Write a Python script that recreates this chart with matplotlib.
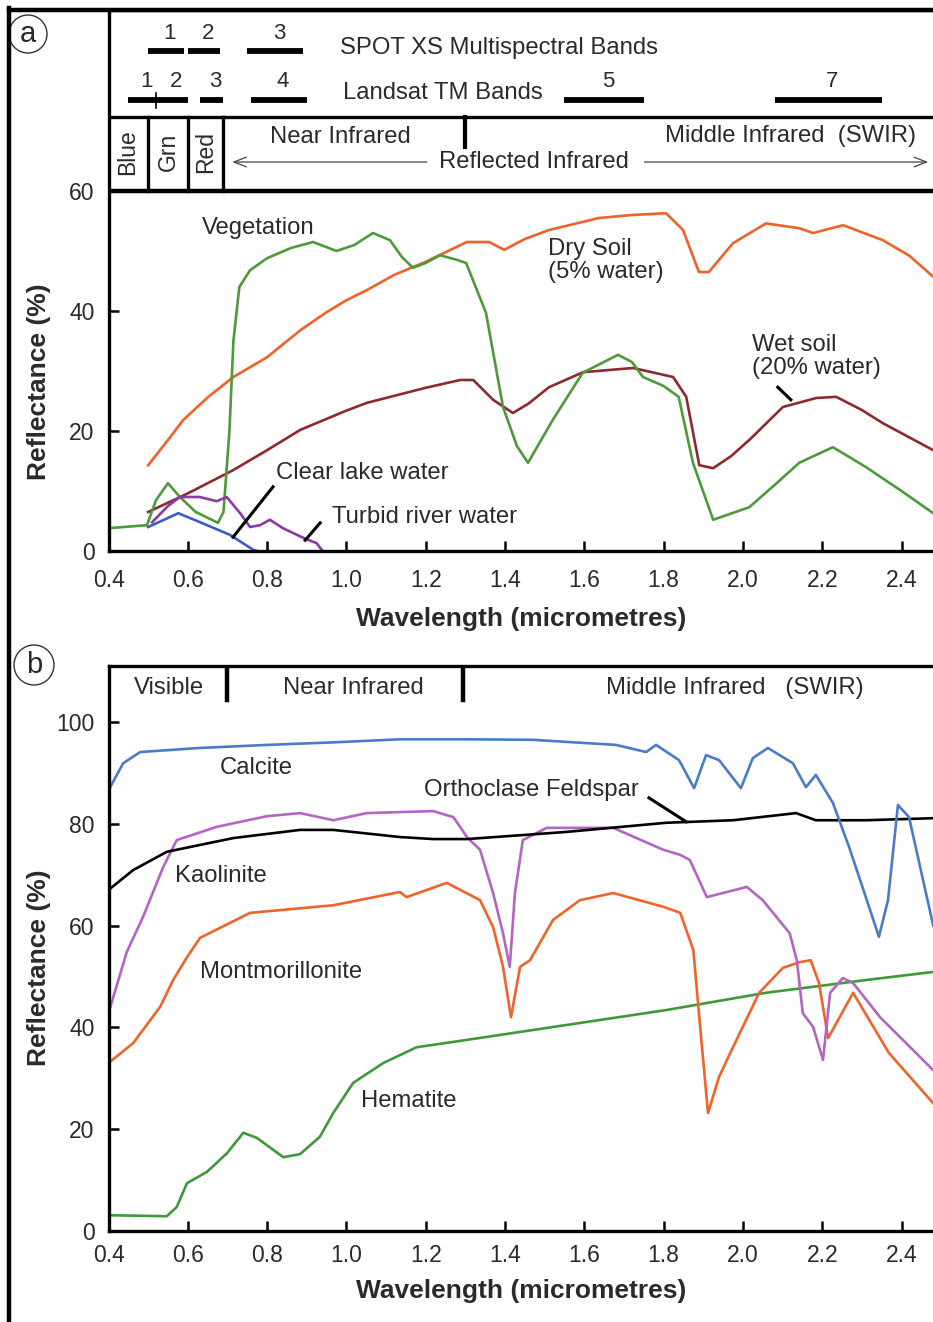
import matplotlib
matplotlib.use("Agg")
import matplotlib.pyplot as plt
from matplotlib.lines import Line2D
from matplotlib.patches import Ellipse

plt.rcParams['font.family'] = ['Liberation Sans', 'DejaVu Sans']

# ---------------- data: panel (a) ----------------
veg_x = [0.40, 0.497, 0.52, 0.55, 0.58, 0.62, 0.676, 0.69, 0.705, 0.715, 0.73, 0.757, 0.80, 0.86, 0.916, 0.975,
         1.02, 1.067, 1.11, 1.14, 1.168, 1.20, 1.236, 1.28, 1.302, 1.352, 1.395, 1.43, 1.458, 1.52, 1.596,
         1.685, 1.72, 1.748, 1.80, 1.838, 1.874, 1.925, 2.016, 2.08, 2.142, 2.227, 2.31, 2.40, 2.48]
veg_y = [3.8, 4.3, 8.5, 11.3, 9.0, 6.5, 4.7, 6.5, 20.0, 35.0, 44.0, 46.8, 48.8, 50.5, 51.5, 50.0,
         51.0, 53.0, 51.8, 49.0, 47.2, 48.0, 49.3, 48.5, 48.0, 39.7, 24.0, 17.5, 14.7, 21.8, 29.7,
         32.7, 31.5, 29.0, 27.5, 25.7, 14.7, 5.2, 7.3, 11.0, 14.7, 17.3, 14.0, 10.0, 6.3]

dry_x = [0.50, 0.55, 0.588, 0.65, 0.715, 0.80, 0.884, 0.95, 1.00, 1.052, 1.12, 1.20, 1.25, 1.304, 1.36,
         1.398, 1.45, 1.511, 1.637, 1.72, 1.806, 1.849, 1.889, 1.914, 1.975, 2.058, 2.142, 2.177, 2.253,
         2.353, 2.42, 2.48]
dry_y = [14.3, 18.5, 21.8, 25.6, 29.0, 32.3, 36.8, 39.8, 41.8, 43.5, 46.0, 48.2, 49.8, 51.5, 51.5,
         50.2, 52.0, 53.5, 55.5, 56.0, 56.3, 53.5, 46.5, 46.5, 51.3, 54.6, 53.8, 53.0, 54.3,
         51.8, 49.2, 45.7]

wet_x = [0.50, 0.60, 0.715, 0.80, 0.884, 1.00, 1.052, 1.20, 1.287, 1.32, 1.37, 1.42, 1.46, 1.511, 1.597,
         1.723, 1.824, 1.857, 1.89, 1.925, 1.97, 2.016, 2.101, 2.185, 2.235, 2.30, 2.353, 2.48]
wet_y = [6.5, 9.6, 13.5, 16.8, 20.2, 23.4, 24.7, 27.2, 28.5, 28.5, 25.2, 23.0, 24.6, 27.3, 29.8,
         30.5, 29.0, 25.7, 14.3, 13.8, 15.8, 18.5, 24.0, 25.5, 25.7, 23.5, 21.3, 16.8]

lake_x = [0.50, 0.54, 0.576, 0.631, 0.706, 0.765, 0.775]
lake_y = [4.0, 5.2, 6.3, 4.8, 2.7, 0.2, 0.0]

turbid_x = [0.51, 0.55, 0.58, 0.63, 0.673, 0.698, 0.732, 0.757, 0.782, 0.807, 0.84, 0.891, 0.925, 0.94]
turbid_y = [4.8, 7.5, 9.0, 9.0, 8.3, 9.0, 6.3, 4.0, 4.3, 5.2, 3.8, 2.2, 1.3, 0.0]

# sensor bands (micrometres)
spot_bands = [(0.50, 0.59), (0.60, 0.68), (0.75, 0.89)]
spot_names = ["1", "2", "3"]
tm_bands = [(0.45, 0.52), (0.52, 0.60), (0.63, 0.69), (0.76, 0.90), (1.55, 1.75), (2.08, 2.35)]
tm_names = ["1", "2", "3", "4", "5", "7"]

# ---------------- data: panel (b) ----------------
calc_x = [0.40, 0.437, 0.48, 0.63, 0.80, 0.967, 1.135, 1.304, 1.47, 1.68, 1.756, 1.781, 1.839, 1.877,
          1.907, 1.94, 1.995, 2.025, 2.063, 2.126, 2.159, 2.184, 2.227, 2.268, 2.31, 2.343, 2.366,
          2.391, 2.419, 2.48]
calc_y = [86.6, 91.9, 94.1, 94.9, 95.5, 96.0, 96.6, 96.6, 96.5, 95.5, 94.1, 95.5, 92.5, 87.0,
          93.5, 92.5, 87.0, 92.9, 94.9, 91.9, 87.2, 89.6, 84.1, 75.4, 65.6, 57.8, 65.0,
          83.7, 81.3, 60.0]

orth_x = [0.40, 0.462, 0.547, 0.715, 0.883, 0.967, 1.135, 1.219, 1.304, 1.554, 1.806, 1.975, 2.134,
          2.184, 2.31, 2.48]
orth_y = [67.0, 70.9, 74.5, 77.2, 78.8, 78.8, 77.4, 77.0, 77.0, 78.4, 80.2, 80.7, 82.1,
          80.7, 80.7, 81.1]

kaol_x = [0.40, 0.446, 0.487, 0.538, 0.572, 0.673, 0.80, 0.883, 0.967, 1.051, 1.219, 1.27, 1.304,
          1.337, 1.37, 1.395, 1.412, 1.425, 1.445, 1.505, 1.673, 1.799, 1.842, 1.866, 1.909, 2.01,
          2.05, 2.118, 2.136, 2.151, 2.177, 2.202, 2.22, 2.252, 2.278, 2.346, 2.404, 2.48]
kaol_y = [42.8, 54.8, 61.7, 71.5, 76.8, 79.4, 81.5, 82.1, 80.7, 82.1, 82.5, 81.3, 77.4,
          74.9, 66.4, 58.5, 51.9, 66.4, 76.8, 79.2, 79.2, 74.9, 73.9, 72.9, 65.6, 67.6,
          65.0, 58.5, 53.2, 42.8, 40.1, 33.6, 46.8, 49.7, 48.7, 42.0, 37.5, 31.6]

mont_x = [0.40, 0.462, 0.53, 0.563, 0.598, 0.631, 0.757, 0.967, 1.135, 1.152, 1.253, 1.337, 1.37,
          1.395, 1.415, 1.438, 1.463, 1.521, 1.589, 1.673, 1.799, 1.842, 1.875, 1.89, 1.912, 1.94,
          1.975, 2.041, 2.101, 2.142, 2.171, 2.192, 2.215, 2.278, 2.368, 2.48]
mont_y = [33.0, 36.9, 44.0, 49.3, 53.8, 57.6, 62.5, 64.0, 66.6, 65.6, 68.4, 65.0, 59.7,
          51.9, 42.0, 51.9, 53.2, 61.1, 65.0, 66.4, 63.7, 62.5, 55.2, 42.0, 23.2, 30.3,
          36.1, 46.8, 51.7, 52.8, 53.2, 48.7, 37.9, 46.8, 35.0, 25.1]

hem_x = [0.40, 0.547, 0.572, 0.598, 0.648, 0.699, 0.74, 0.774, 0.841, 0.883, 0.933, 0.967, 1.017,
         1.093, 1.177, 1.30, 1.806, 2.058, 2.31, 2.48]
hem_y = [3.1, 2.9, 4.7, 9.4, 11.6, 15.3, 19.3, 18.3, 14.5, 15.1, 18.5, 23.2, 29.1,
         33.0, 36.1, 37.5, 43.4, 46.8, 49.3, 50.9]

x_ticks = [0.4, 0.6, 0.8, 1.0, 1.2, 1.4, 1.6, 1.8, 2.0, 2.2, 2.4]
ya_ticks = [0, 20, 40, 60]
yb_ticks = [0, 20, 40, 60, 80, 100]

# ---------------- figure ----------------
W, H = 933, 1322
fig = plt.figure(figsize=(W / 100, H / 100), dpi=100)
XMAX = 0.4 + (933 - 108.5) / 396.5

def frac_box(top_px, bottom_px):
    return [108.5 / W, 1 - bottom_px / H, 1 - 108.5 / W, (bottom_px - top_px) / H]

axa = fig.add_axes(frac_box(10, 551))
axb = fig.add_axes(frac_box(666, 1231))

TXT = '#2a2a2a'
SPW = 2.4
TKF = 16.5
AXF = 19
for ax, ymax, yt, xpad, xlp in [(axa, (551 - 10) / 6.0, ya_ticks, 13, 11),
                                 (axb, (1231 - 666) / 5.09, yb_ticks, 9.5, 8.5)]:
    ax.set_xlim(0.4, XMAX)
    ax.set_ylim(0, ymax)
    ax.set_xticks(x_ticks)
    ax.set_xticklabels([f"{t:.1f}" for t in x_ticks])
    ax.set_yticks(yt)
    ax.tick_params(direction='in', length=7, width=1.8, labelsize=TKF, colors='black',
                   labelcolor=TXT)
    ax.tick_params(axis='x', pad=xpad)
    ax.tick_params(axis='y', pad=10)
    for s in ['left', 'bottom', 'top']:
        ax.spines[s].set_linewidth(SPW)
    ax.spines['right'].set_visible(False)
    ax.set_facecolor('none')
    ax.set_xlabel('Wavelength (micrometres)', fontsize=AXF, fontweight='bold', color=TXT, labelpad=xlp)
    ax.set_ylabel('Reflectance (%)', fontsize=AXF, fontweight='bold', color=TXT)

# y-label placement (pixel based)
axa.yaxis.set_label_coords((51 - 108.5) / (W - 108.5), (551 - 382) / (551 - 10))
axb.yaxis.set_label_coords((51 - 108.5) / (W - 108.5), (1231 - 968) / (1231 - 666))

LW = 1.9
ANF = 17.2
# ---- panel a curves
axa.plot(dry_x, dry_y, color='#f0622a', lw=LW)
axa.plot(wet_x, wet_y, color='#8c2a30', lw=LW)
axa.plot(veg_x, veg_y, color='#4c9a3a', lw=LW)
axa.plot(turbid_x, turbid_y, color='#8a3aa3', lw=LW)
axa.plot(lake_x, lake_y, color='#3a5cc4', lw=LW)

# header of panel a
HDR1 = (551 - 117) / 6.0
axa.axhline(60, color='black', lw=SPW + 0.8)
axa.axhline(HDR1, color='black', lw=SPW)
for xv in [0.50, 0.60, 0.69]:
    axa.plot([xv, xv], [60, HDR1], color='black', lw=SPW)
axa.plot([1.3, 1.3], [HDR1, (551 - 147) / 6.0], color='black', lw=SPW + 0.6)

y_spot = (551 - 51) / 6.0
y_tm = (551 - 100) / 6.0
for (a, b), n in zip(spot_bands, spot_names):
    axa.plot([a, b], [y_spot, y_spot], color='black', lw=4.2, solid_capstyle='butt')
    axa.text((a + b) / 2 + 0.01, y_spot + 1.2, n, fontsize=16, ha='center', va='bottom', color=TXT)
for (a, b), n in zip(tm_bands, tm_names):
    axa.plot([a, b], [y_tm, y_tm], color='black', lw=4.2, solid_capstyle='butt')
    axa.text((a + b) / 2 + 0.01, y_tm + 1.3, n, fontsize=16, ha='center', va='bottom', color=TXT)
axa.plot([0.52, 0.52], [(551 - 108) / 6.0, (551 - 93) / 6.0], color='black', lw=1.2)

axa.text(0.984, (551 - 48) / 6.0, 'SPOT XS Multispectral Bands', fontsize=ANF, va='center', color=TXT)
axa.text(0.992, (551 - 93) / 6.0, 'Landsat TM Bands', fontsize=ANF, va='center', color=TXT)

yrow = (551 - 152) / 6.0
for xv, lab in [(0.448, 'Blue'), (0.55, 'Grn'), (0.645, 'Red')]:
    axa.text(xv, yrow, lab, rotation=90, fontsize=16.5, ha='center', va='center', color=TXT)
axa.text(0.985, (551 - 137) / 6.0, 'Near Infrared', fontsize=ANF, ha='center', va='center', color=TXT)
axa.text(2.12, (551 - 136) / 6.0, 'Middle Infrared  (SWIR)', fontsize=ANF, ha='center', va='center', color=TXT)
y_ref = (551 - 162) / 6.0
axa.text(1.474, y_ref, 'Reflected Infrared', fontsize=ANF, ha='center', va='center', color=TXT)
axa.annotate('', xy=(0.705, y_ref), xytext=(1.21, y_ref),
             arrowprops=dict(arrowstyle='->,head_length=0.9,head_width=0.35', color='#444444', lw=0.9))
axa.annotate('', xy=(XMAX - 0.005, y_ref), xytext=(1.745, y_ref),
             arrowprops=dict(arrowstyle='->,head_length=0.9,head_width=0.35', color='#444444', lw=0.9),
             annotation_clip=False)

# annotations panel a
axa.text(0.635, 53.8, 'Vegetation', fontsize=ANF, va='center', color=TXT)
axa.text(1.509, 48.4, 'Dry Soil\n(5% water)', fontsize=ANF, va='center', color=TXT, linespacing=1.05)
axa.text(2.023, 32.4, 'Wet soil\n(20% water)', fontsize=ANF, va='center', color=TXT, linespacing=1.05)
axa.plot([2.088, 2.121], [27.3, 25.2], color='black', lw=2.2)
axa.text(0.823, 13.0, 'Clear lake water', fontsize=ANF, va='center', color=TXT)
axa.plot([0.815, 0.714], [10.7, 2.3], color='black', lw=2.2)
axa.text(0.964, 5.7, 'Turbid river water', fontsize=ANF, va='center', color=TXT)
axa.plot([0.934, 0.896], [4.7, 1.8], color='black', lw=2.2)

# ---- panel b curves
axb.plot(hem_x, hem_y, color='#3f993a', lw=LW)
axb.plot(mont_x, mont_y, color='#f0642a', lw=LW)
axb.plot(kaol_x, kaol_y, color='#b465c4', lw=LW)
axb.plot(orth_x, orth_y, color='black', lw=LW)
axb.plot(calc_x, calc_y, color='#4a7bc8', lw=LW)

HB = (1231 - 700) / 5.09
top_b = (1231 - 666) / 5.09
for xv in [0.70, 1.295]:
    axb.plot([xv, xv], [HB, top_b], color='black', lw=SPW + 0.8)
yh = (1231 - 688) / 5.09
axb.text(0.553, yh, 'Visible', fontsize=ANF, ha='center', va='center', color=TXT)
axb.text(1.017, yh, 'Near Infrared', fontsize=ANF, ha='center', va='center', color=TXT)
axb.text(1.98, yh, 'Middle Infrared   (SWIR)', fontsize=ANF, ha='center', va='center', color=TXT)

axb.text(0.681, 91.0, 'Calcite', fontsize=ANF, va='center', color=TXT)
axb.text(1.196, 86.6, 'Orthoclase Feldspar', fontsize=ANF, va='center', color=TXT)
axb.plot([1.763, 1.857], [85.1, 80.4], color='black', lw=2.2)
axb.text(0.568, 69.7, 'Kaolinite', fontsize=ANF, va='center', color=TXT)
axb.text(0.631, 50.9, 'Montmorillonite', fontsize=ANF, va='center', color=TXT)
axb.text(1.037, 25.5, 'Hematite', fontsize=ANF, va='center', color=TXT)

# ---- outer frame and panel letters
fig.add_artist(Line2D([9 / W, 9 / W], [0, 1 - 8 / H], color='black', lw=3.2, transform=fig.transFigure))
fig.add_artist(Line2D([9 / W, 1], [1 - 10 / H, 1 - 10 / H], color='black', lw=3.2, transform=fig.transFigure))
for (cx, cy, r, lab) in [(28, 34, 19, 'a'), (34, 665, 20, 'b')]:
    fig.add_artist(Ellipse((cx / W, 1 - cy / H), 2 * r / W, 2 * r / H, fill=False, lw=1.0,
                           edgecolor='#333333', transform=fig.transFigure))
    fig.text(cx / W, 1 - cy / H, lab, fontsize=21, ha='center', va='center', color=TXT)

fig.savefig('out.png', dpi=100, facecolor='white')
